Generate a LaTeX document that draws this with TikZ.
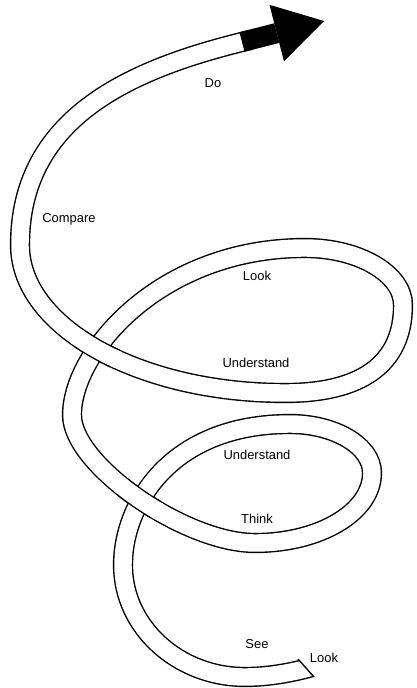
\documentclass[tikz,border=0pt]{standalone}
\usepackage{fontspec}
\setmainfont{Liberation Sans}
\usetikzlibrary{arrows.meta}

\tikzset{
    band/.style={double=white, double distance=12.4pt, line width=1pt},
    bandedge/.style={line width=14.4pt},
    bandfill/.style={white, line width=12.4pt},
    lbl/.style={font=\fontsize{9.2}{11}\selectfont, inner sep=0pt}
}

\begin{document}
\begin{tikzpicture}[x=0.025cm, y=-0.025cm]
    \useasboundingbox (0,0) rectangle (416,688);
    % the band, from its start at the bottom up to the arrow
    \draw[band] (312,667) .. controls (291,673) and (267,677) .. (245,677)
        .. controls (178,677) and (123,627) .. (123,565)
        .. controls (123,505) and (170,424) .. (290,424)
        .. controls (335,424) and (372,446) .. (372,473)
        .. controls (372,512) and (320,543) .. (255,543)
        .. controls (185,543) and (72,465) .. (72,415)
        .. controls (72,352) and (160,248) .. (305,248)
        .. controls (359,248) and (403,274) .. (403,305)
        .. controls (403,365) and (360,393) .. (285,393)
        .. controls (139,393) and (20,327) .. (20,245)
        .. controls (20,120) and (125.6,70.8) .. (242,42) -- (250,40);
    % where the band passes over itself
    \begin{scope}
        \clip (139,499) circle (22);
        \draw[bandedge] (255,543) .. controls (185,543) and (72,465) .. (72,415);
    \end{scope}
    \begin{scope}
        \clip (139,499) circle (26);
        \draw[bandfill] (255,543) .. controls (185,543) and (72,465) .. (72,415);
    \end{scope}
    \begin{scope}
        \clip (96,350) circle (22);
        \draw[bandedge] (285,393) .. controls (139,393) and (20,327) .. (20,245);
    \end{scope}
    \begin{scope}
        \clip (96,350) circle (26);
        \draw[bandfill] (285,393) .. controls (139,393) and (20,327) .. (20,245);
    \end{scope}
    % slanted start and the arrow head
    \fill[white] (297,658) -- (324,650) -- (317.2,680.6) -- cycle;
    \draw[line width=1pt] (298,659) -- (314,677);
    \draw[line width=14.4pt, -{Triangle[length=34.7pt, width=41.5pt, line width=0pt]}] (242,42) -- (324,21);

    \node[lbl] (do) at (213,83) {Do};
    \node[lbl] (compare) at (69,219) {Compare};
    \node[lbl] (lookup) at (257,276) {Look};
    \node[lbl] (underup) at (256,363) {Understand};
    \node[lbl] (underlow) at (257,455) {Understand};
    \node[lbl] (think) at (257,519) {Think};
    \node[lbl] (see) at (257,644) {See};
    \node[lbl] (lookend) at (324,658) {Look};
\end{tikzpicture}
\end{document}
